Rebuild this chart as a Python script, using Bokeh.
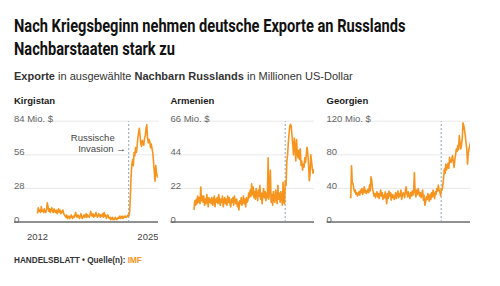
from bokeh.plotting import figure
from bokeh.layouts import column, row
from bokeh.models import Div
from bokeh.core.properties import value
from bokeh.embed import file_html
from bokeh.resources import INLINE

# ---------------------------------------------------------------------------
# Data: monthly German exports (million US$), January 2012 to June 2025
# ---------------------------------------------------------------------------
FIRST_YEAR = 2012

kirgistan = [
    7, 12, 9, 10, 8, 13, 9, 10, 8, 11, 9, 8,          # 2012
    10, 16, 13, 9, 11, 8, 10, 12, 9, 8, 11, 9,        # 2013
    8, 10, 7, 9, 11, 8, 10, 7, 9, 8, 10, 7,           # 2014
    6, 5, 4, 6, 3, 4, 5, 3, 4, 6, 4, 3,               # 2015
    5, 4, 6, 8, 5, 4, 6, 5, 3, 5, 7, 4,               # 2016
    3, 5, 6, 4, 5, 7, 4, 6, 5, 4, 6, 9,               # 2017
    6, 5, 7, 4, 6, 5, 8, 6, 4, 5, 7, 6,               # 2018
    4, 6, 5, 7, 4, 8, 5, 6, 3, 5, 6, 4,               # 2019
    3, 4, 2, 3, 4, 2, 3, 2, 4, 3, 2, 3,               # 2020
    4, 3, 5, 3, 4, 5, 3, 4, 5, 4, 5, 4,               # 2021
    5, 6, 5, 8, 20, 38, 48, 52, 47, 58, 55, 62,       # 2022
    58, 62, 70, 74, 78, 72, 65, 63, 68, 66, 64, 70,   # 2023
    72, 78, 81, 70, 66, 69, 67, 62, 65, 61, 58, 50,   # 2024
    42, 34, 47, 41, 38, 37,                           # 2025
]

armenien = [
    8, 14, 11, 15, 12, 17, 13, 16, 12, 23, 14, 17,    # 2012
    13, 17, 11, 15, 12, 18, 14, 10, 16, 13, 15, 12,   # 2013
    16, 11, 14, 17, 10, 15, 13, 16, 12, 18, 14, 11,   # 2014
    15, 13, 17, 10, 14, 16, 12, 15, 11, 17, 13, 16,   # 2015
    12, 10, 15, 13, 16, 11, 17, 14, 12, 15, 10, 13,   # 2016
    8, 14, 12, 16, 11, 13, 17, 12, 15, 10, 16, 13,    # 2017
    14, 19, 16, 21, 17, 25, 18, 23, 16, 20, 15, 22,   # 2018
    18, 14, 21, 17, 24, 15, 19, 12, 18, 22, 16, 20,   # 2019
    14, 19, 16, 42, 15, 21, 34, 13, 18, 11, 20, 15,   # 2020
    13, 21, 17, 12, 24, 15, 19, 13, 20, 16, 11, 26,   # 2021
    13, 12, 27, 24, 40, 44, 52, 58, 63, 64, 62, 56,   # 2022
    50, 44, 55, 50, 40, 54, 45, 42, 47, 41, 48, 37,   # 2023
    40, 34, 38, 36, 42, 39, 44, 49, 45, 38, 27, 31,   # 2024
    44, 40, 35, 32, 34, 33,                           # 2025
]

georgien = [
    30, 29, 67, 47, 46, 40, 36, 38, 33, 35, 31, 34,   # 2012
    36, 32, 38, 35, 40, 33, 37, 42, 35, 38, 34, 36,   # 2013
    39, 35, 44, 37, 54, 50, 40, 36, 31, 34, 29, 33,   # 2014
    36, 30, 34, 28, 33, 38, 31, 35, 27, 32, 29, 36,   # 2015
    30, 22, 34, 28, 37, 31, 35, 26, 33, 29, 32, 27,   # 2016
    30, 35, 28, 33, 37, 29, 34, 31, 38, 27, 32, 35,   # 2017
    33, 29, 38, 42, 34, 30, 36, 32, 28, 35, 31, 37,   # 2018
    32, 36, 59, 35, 30, 38, 33, 40, 36, 31, 35, 29,   # 2019
    34, 38, 26, 32, 20, 24, 30, 27, 34, 29, 25, 33,   # 2020
    27, 35, 30, 38, 32, 28, 36, 33, 40, 37, 44, 38,   # 2021
    36, 31, 40, 38, 44, 52, 63, 58, 69, 62, 66, 70,   # 2022
    64, 77, 72, 71, 75, 79, 72, 65, 74, 80, 87, 84,   # 2023
    91, 86, 103, 95, 87, 92, 100, 118, 115, 109, 103, 94,  # 2024
    87, 69, 82, 87, 91, 95,                           # 2025
]

countries = ["Kirgistan", "Armenien", "Georgien"]
series = [kirgistan, armenien, georgien]
y_ticks = [[0, 28, 56, 84], [0, 22, 44, 66], [0, 40, 80, 120]]
tick_unit = "Mio. $"
year_ticks = [2012, 2025]
invasion = 2022 + 55 / 365          # 24 February 2022
invasion_note = ["Russische", "Invasion \u2192"]

# ---------------------------------------------------------------------------
# Layout constants (pixels)
# ---------------------------------------------------------------------------
ORANGE = "#f7941d"
FONT = value("Liberation Sans")
FIG_H = 156
GRID_TOP = 32.7        # figure top -> top gridline
GRID_H = 100.9         # top gridline -> zero line
PLOT_W = 144.5
X_LO, X_HI = 2009.38, 2025.47
PX_PER_YEAR = PLOT_W / (X_HI - X_LO)
panel_widths = [158, 156, 156]
panel_pads = [13.5, 12, 12]


def month_positions(n):
    return [FIRST_YEAR + i / 12 for i in range(n)]


def make_panel(idx):
    name, vals, ticks = countries[idx], series[idx], y_ticks[idx]
    fig_w, pad = panel_widths[idx], panel_pads[idx]
    x0 = X_LO - pad / PX_PER_YEAR
    x1 = x0 + fig_w / PX_PER_YEAR
    top = ticks[-1]
    unit = top / GRID_H
    y0 = -(FIG_H - GRID_TOP - GRID_H) * unit
    y1 = top + GRID_TOP * unit

    p = figure(width=fig_w, height=FIG_H, x_range=(x0, x1), y_range=(y0, y1),
               output_backend="svg", toolbar_location=None, title=None,
               x_axis_location=None, y_axis_location=None, min_border=0,
               outline_line_color=None, background_fill_color="white",
               border_fill_color="white")
    p.grid.visible = False

    # gridlines and zero line
    p.segment(x0=[X_LO] * (len(ticks) - 1), x1=[X_HI] * (len(ticks) - 1),
              y0=ticks[1:], y1=ticks[1:], line_color="#e8e8e8", line_width=1)
    p.segment(x0=[X_LO], x1=[X_HI], y0=[0], y1=[0], line_color="#6b6b6b", line_width=1.5)

    # invasion marker
    p.segment(x0=[invasion], x1=[invasion], y0=[0], y1=[top],
              line_color="#7f96ab", line_width=0.9, line_dash="2 2")

    # series
    p.line(month_positions(len(vals)), vals, line_color=ORANGE, line_width=1.6,
           line_join="round")

    # tick labels inside the plot, above their gridlines
    labels = [str(t) for t in ticks[:-1]] + [f"{ticks[-1]} {tick_unit}"]
    p.text(x=[X_LO] * len(ticks), y=ticks, text=labels, y_offset=-2.5,
           text_font=FONT, text_font_size="9.5px", text_color="#666666",
           text_align="left", text_baseline="alphabetic")

    # panel title
    p.text(x=[X_LO], y=[top], text=[name], y_offset=-20.5,
           text_font=FONT, text_font_size="9.5px", text_font_style="bold",
           text_color="#1a1a1a", text_align="left", text_baseline="alphabetic")

    if idx == 0:
        p.text(x=[year_ticks[0]], y=[0], text=[str(year_ticks[0])], y_offset=14.5,
               text_font=FONT, text_font_size="9.5px", text_color="#444444",
               text_align="center", text_baseline="alphabetic")
        p.text(x=[X_HI], y=[0], text=[str(year_ticks[1])], y_offset=14.5,
               text_font=FONT, text_font_size="9.5px", text_color="#444444",
               text_align="right", text_baseline="alphabetic")
        p.text(x=[invasion], y=[top], text=[invasion_note[0]], x_offset=-14, y_offset=15.8,
               text_font=FONT, text_font_size="9.5px", text_color="#444444",
               text_align="right", text_baseline="alphabetic")
        p.text(x=[invasion], y=[top], text=[invasion_note[1]], x_offset=-3, y_offset=27.5,
               text_font=FONT, text_font_size="9.5px", text_color="#444444",
               text_align="right", text_baseline="alphabetic")
    return p


header_html = (
    '<div style="padding:14px 0 0 14px;margin:0;">'
    '<div style="display:inline-block;white-space:nowrap;font-family:Roboto;'
    'font-weight:700;font-size:19px;line-height:23px;color:#111;'
    'transform:scaleX(0.77);transform-origin:0 0;">'
    'Nach Kriegsbeginn nehmen deutsche Exporte an Russlands<br>Nachbarstaaten stark zu'
    '</div></div>'
    '<div style="padding:9px 0 0 14px;margin:0;font-family:\'Liberation Sans\';'
    'font-size:11px;line-height:14px;color:#333;white-space:nowrap;">'
    '<b>Exporte</b> in ausgewählte <b>Nachbarn Russlands</b> in Millionen US-Dollar'
    '</div>'
)
footer_html = (
    '<div style="padding:11.5px 0 0 14px;margin:0;font-family:\'Liberation Sans\';'
    'font-size:8.2px;font-weight:700;line-height:10px;color:#333;white-space:nowrap;">'
    'HANDELSBLATT \u2022 Quelle(n): <span style="color:#f7941d;">IMF</span></div>'
)

header = Div(text=header_html, width=500, height=88, margin=0)
footer = Div(text=footer_html, width=500, height=42, margin=0)
panels = row(*[make_panel(i) for i in range(3)], spacing=0)
layout = column(header, panels, footer, spacing=0)

open("out.html", "w").write(file_html(layout, INLINE))
